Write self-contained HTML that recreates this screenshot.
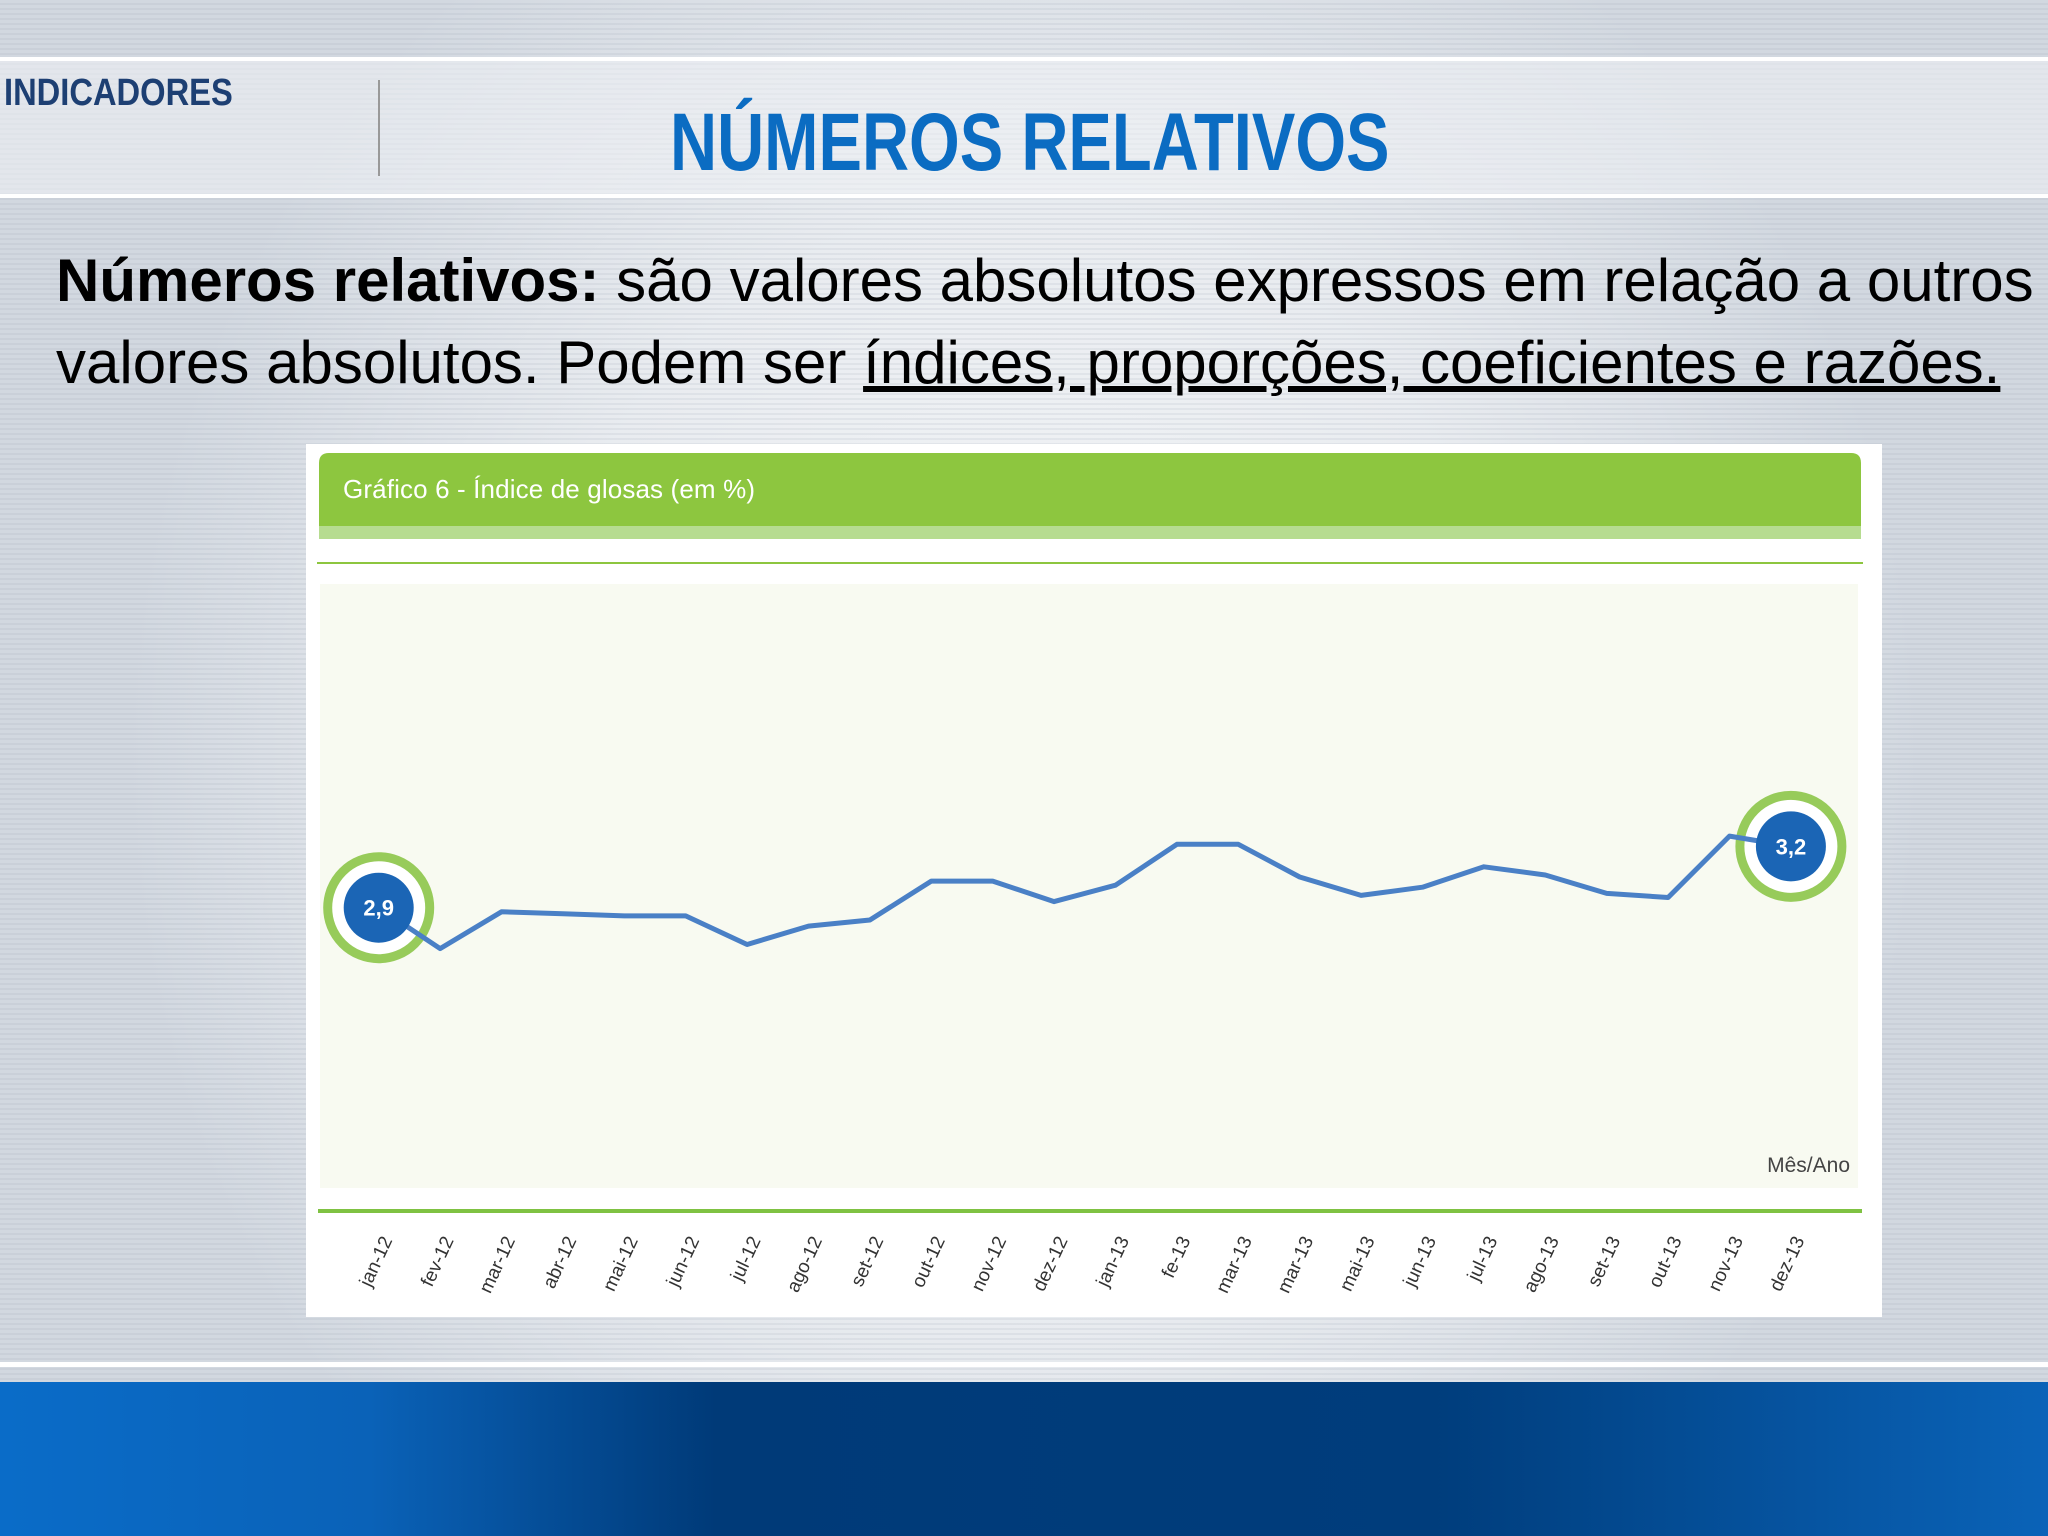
<!DOCTYPE html>
<html><head><meta charset="utf-8"><style>
body{margin:0;width:2048px;height:1536px;overflow:hidden;position:relative;font-family:"Liberation Sans",sans-serif;
background:radial-gradient(ellipse 900px 1000px at 1024px 760px,#f4f6f8 0%,#e9ecf0 55%,#d2d8e0 100%);}
.stripes{position:absolute;left:0;top:0;width:2048px;height:1380px;background:repeating-linear-gradient(0deg,rgba(150,160,175,0.14) 0 2px,rgba(255,255,255,0) 2px 5px);}
</style></head><body>
<div class="stripes"></div>
<div style="position:absolute;left:0;top:57px;width:2048px;height:141px;background:rgba(240,242,245,0.55);border-top:4px solid #fff;border-bottom:4px solid #fff;box-sizing:border-box"></div>
<div style="position:absolute;left:4px;top:72px;font-size:38px;font-weight:bold;color:#1d3f73;transform:scaleX(0.86);transform-origin:left top">INDICADORES</div>
<div style="position:absolute;left:378px;top:80px;width:2px;height:96px;background:#999"></div>
<div style="position:absolute;left:670px;top:96px;font-size:82px;font-weight:bold;color:#0b6cc2;transform:scaleX(0.795);transform-origin:left top;white-space:nowrap">NÚMEROS RELATIVOS</div>
<div style="position:absolute;left:56px;top:240px;font-size:60px;line-height:82px;color:#000;white-space:nowrap"><b>Números relativos:</b> são valores absolutos expressos em relação a outros<br>valores absolutos. Podem ser <u>índices, proporções, coeficientes e razões.</u></div>
<div style="position:absolute;left:0;top:1362px;width:2048px;height:5px;background:#fff"></div>
<div style="position:absolute;left:0;top:1382px;width:2048px;height:154px;background:linear-gradient(90deg,#0a6cc8 0%,#0a62b8 18%,#003a78 35%,#003d7c 70%,#0a63b8 100%)"></div>
<svg style="position:absolute;left:0;top:0" width="2048" height="1536">
<rect x="306" y="444" width="1576" height="873" fill="#fff"/>
<path d="M319 539 V463 Q319 453 329 453 H1851 Q1861 453 1861 463 V539 Z" fill="#8dc63f"/>
<rect x="319" y="526" width="1542" height="13" fill="#b6dc90"/>
<text x="343" y="498" font-size="26" fill="#fff" font-family="Liberation Sans" textLength="412">Gráfico 6 - Índice de glosas (em %)</text>
<rect x="317" y="562" width="1546" height="2" fill="#8dc63f"/>
<rect x="320" y="584" width="1538" height="604" fill="#f8faf1"/>
<rect x="318" y="1209" width="1544" height="4" fill="#7fc242"/>
<text x="1850" y="1172" font-size="21" fill="#444" text-anchor="end">Mês/Ano</text>
<g id="marks"></g>
</svg>
<script>
const categories=["jan-12","fev-12","mar-12","abr-12","mai-12","jun-12","jul-12","ago-12","set-12","out-12","nov-12","dez-12","jan-13","fe-13","mar-13","mar-13","mai-13","jun-13","jul-13","ago-13","set-13","out-13","nov-13","dez-13"];
const values=[2.9,2.70,2.88,2.87,2.86,2.86,2.72,2.81,2.84,3.03,3.03,2.93,3.01,3.21,3.21,3.05,2.96,3.0,3.10,3.06,2.97,2.95,3.25,3.2];
const highlightLabels=["2,9","3,2"];
const NS="http://www.w3.org/2000/svg";
const g=document.getElementById('marks');
function xs(i){return 378.7+61.4*i;}
function ys(v){return 907.7-(v-2.9)*204.6;}
function mk(t,a){const e=document.createElementNS(NS,t);for(const k in a)e.setAttribute(k,a[k]);g.appendChild(e);return e;}
categories.forEach((c,i)=>{
  const t=mk('text',{x:0,y:0,'font-size':19,fill:'#333','text-anchor':'end',transform:`translate(${xs(i)+14},${1240}) rotate(-65)`});
  t.textContent=c;
  
  
});
[0,values.length-1].forEach((i)=>{
  const r=mk('circle',{cx:xs(i),cy:ys(values[i]),r:51,fill:'#fff',stroke:'#97cb5a','stroke-width':9});
  
  
});
let d=values.map((v,i)=>(i?'L':'M')+xs(i).toFixed(1)+' '+ys(v).toFixed(1)).join(' ');
const line=mk('path',{d:d,fill:'none',stroke:'#4a80c6','stroke-width':5,'stroke-linejoin':'round'});


[0,values.length-1].forEach((i,k)=>{
  const cx=xs(i),cy=ys(values[i]);
  const b=mk('circle',{cx:cx,cy:cy,r:35,fill:'#1b65b5'});
  
  
  const t=mk('text',{x:cx,y:cy+8,'font-size':22,'font-weight':'bold',fill:'#fff','text-anchor':'middle'});
  t.textContent=highlightLabels[k];
  
  
});
</script>
</body></html>
